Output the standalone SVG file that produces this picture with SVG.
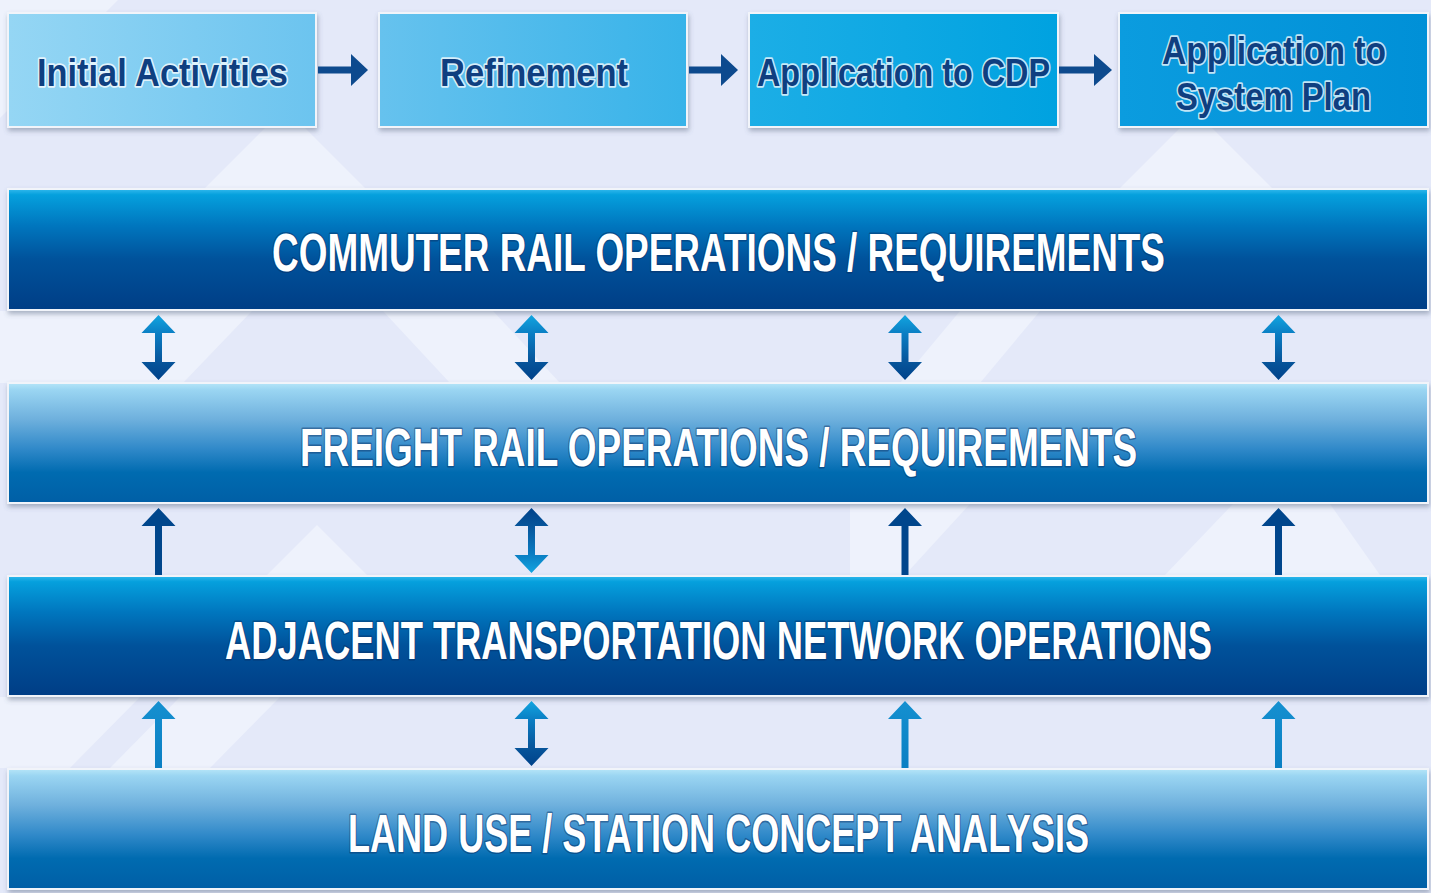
<svg xmlns="http://www.w3.org/2000/svg" width="1431" height="893" viewBox="0 0 1431 893">
<defs>
<style>
.bx{font-family:"Liberation Sans",Arial,sans-serif;font-weight:bold;font-size:39px;fill:#0f3f80;stroke:#ffffff;stroke-width:3.5px;stroke-opacity:0.75;stroke-linejoin:round;paint-order:stroke;text-anchor:middle}
.bd{font-family:"Liberation Sans",Arial,sans-serif;font-weight:bold;font-size:36.5px;fill:#ffffff;stroke:#0a2a5c;stroke-opacity:0.45;stroke-width:2px;stroke-linejoin:round;paint-order:stroke;text-anchor:middle}
.frame{fill:#f1f4fa}
.lt{fill:#eef2fc}
.harrow{fill:#0d4a8e}
</style>
<linearGradient id="gDark" x1="0" y1="0" x2="0" y2="1">
<stop offset="0" stop-color="#2bb5ea"/>
<stop offset="0.04" stop-color="#05a0dd"/>
<stop offset="0.3" stop-color="#0076be"/>
<stop offset="0.58" stop-color="#00529b"/>
<stop offset="1" stop-color="#003e86"/>
</linearGradient>
<linearGradient id="gLight" x1="0" y1="0" x2="0" y2="1">
<stop offset="0" stop-color="#b2e3f7"/>
<stop offset="0.05" stop-color="#9ad5f2"/>
<stop offset="0.3" stop-color="#6eb0dd"/>
<stop offset="0.55" stop-color="#3089c9"/>
<stop offset="0.75" stop-color="#006bb0"/>
<stop offset="1" stop-color="#005fa6"/>
</linearGradient>
<linearGradient id="gB1" x1="0" y1="0" x2="1" y2="0"><stop offset="0" stop-color="#95d6f4"/><stop offset="1" stop-color="#6cc4ef"/></linearGradient>
<linearGradient id="gB2" x1="0" y1="0" x2="1" y2="0"><stop offset="0" stop-color="#66c2ee"/><stop offset="1" stop-color="#38b3e9"/></linearGradient>
<linearGradient id="gB3" x1="0" y1="0" x2="1" y2="0"><stop offset="0" stop-color="#1caee6"/><stop offset="1" stop-color="#00a2e0"/></linearGradient>
<linearGradient id="gB4" x1="0" y1="0" x2="1" y2="0"><stop offset="0" stop-color="#0b9cdf"/><stop offset="1" stop-color="#0090d7"/></linearGradient>
<linearGradient id="aDown" x1="0" y1="0" x2="0" y2="1">
<stop offset="0" stop-color="#12a5e0"/>
<stop offset="0.3" stop-color="#0a7cc2"/>
<stop offset="0.7" stop-color="#07569c"/>
<stop offset="1" stop-color="#00428a"/>
</linearGradient>
<linearGradient id="aUp" x1="0" y1="0" x2="0" y2="1">
<stop offset="0" stop-color="#00428a"/>
<stop offset="0.3" stop-color="#07569c"/>
<stop offset="0.7" stop-color="#0a7cc2"/>
<stop offset="1" stop-color="#12a5e0"/>
</linearGradient>
<linearGradient id="aMid" x1="0" y1="0" x2="0" y2="1">
<stop offset="0" stop-color="#1590d0"/>
<stop offset="1" stop-color="#0a7fc3"/>
</linearGradient>
<filter id="sh" x="-5%" y="-20%" width="110%" height="140%">
<feDropShadow dx="1" dy="3" stdDeviation="2.5" flood-color="#55607a" flood-opacity="0.45"/>
</filter>
<path id="dbl" d="M0,0 L17,18 L3.5,18 L3.5,47 L17,47 L0,65 L-17,47 L-3.5,47 L-3.5,18 L-17,18 Z"/>
<path id="up" d="M0,0 L17,18 L3.5,18 L3.5,67 L-3.5,67 L-3.5,18 L-17,18 Z"/>
</defs>

<rect x="0" y="0" width="1431" height="893" fill="#e4e9f9"/>
<g id="background">
<polygon class="lt" points="0,0 118,0 0,118"/>
<polygon class="lt" points="285,108 367,190 203,190"/>
<polygon class="lt" points="1196,112 1274,190 1118,190"/>
<polygon class="lt" points="0,311 252,311 183,383 0,383"/>
<polygon class="lt" points="383,311 493,311 560,383 450,383"/>
<polygon class="lt" points="960,311 1040,311 980,383 900,383"/>
<polygon class="lt" points="317,525 367,575 267,575"/>
<polygon class="lt" points="850,504 970,504 905,575 850,575"/>
<polygon class="lt" points="1233,504 1330,504 1380,575 1165,575"/>
<polygon class="lt" points="0,697 140,697 70,768 0,768"/>
<polygon class="lt" points="180,697 280,697 210,768 110,768"/>
</g>

<g id="box-initial">
<rect x="7" y="12" width="310" height="116" class="frame" filter="url(#sh)"/>
<rect x="9" y="14" width="306" height="112" fill="url(#gB1)"/>
<text class="bx" x="162.5" y="86" textLength="251" lengthAdjust="spacingAndGlyphs">Initial Activities</text>
</g>
<g id="box-refinement">
<rect x="378" y="12" width="310" height="116" class="frame" filter="url(#sh)"/>
<rect x="380" y="14" width="306" height="112" fill="url(#gB2)"/>
<text class="bx" x="534" y="86" textLength="188" lengthAdjust="spacingAndGlyphs">Refinement</text>
</g>
<g id="box-cdp">
<rect x="748" y="12" width="311" height="116" class="frame" filter="url(#sh)"/>
<rect x="750" y="14" width="307" height="112" fill="url(#gB3)"/>
<text class="bx" x="903.5" y="86" textLength="293" lengthAdjust="spacingAndGlyphs">Application to CDP</text>
</g>
<g id="box-system">
<rect x="1118" y="12" width="311" height="116" class="frame" filter="url(#sh)"/>
<rect x="1120" y="14" width="307" height="112" fill="url(#gB4)"/>
<text class="bx" x="1274" y="64" textLength="224" lengthAdjust="spacingAndGlyphs">Application to</text>
<text class="bx" x="1273.5" y="110" textLength="195" lengthAdjust="spacingAndGlyphs">System Plan</text>
</g>

<g id="band-commuter">
<rect x="7" y="188" width="1422" height="123" class="frame" filter="url(#sh)"/>
<rect x="9" y="190" width="1418" height="119" fill="url(#gDark)"/>
<text class="bd" transform="translate(718.5,271) scale(1,1.47)" x="0" y="0" textLength="893" lengthAdjust="spacingAndGlyphs">COMMUTER RAIL OPERATIONS / REQUIREMENTS</text>
</g>
<g id="band-freight">
<rect x="7" y="382" width="1422" height="122" class="frame" filter="url(#sh)"/>
<rect x="9" y="384" width="1418" height="118" fill="url(#gLight)"/>
<text class="bd" transform="translate(718.5,466) scale(1,1.47)" x="0" y="0" textLength="837" lengthAdjust="spacingAndGlyphs">FREIGHT RAIL OPERATIONS / REQUIREMENTS</text>
</g>
<g id="band-adjacent">
<rect x="7" y="575" width="1422" height="122" class="frame" filter="url(#sh)"/>
<rect x="9" y="577" width="1418" height="118" fill="url(#gDark)"/>
<text class="bd" style="font-size:36px" transform="translate(718.5,659) scale(1,1.49)" x="0" y="0" textLength="987" lengthAdjust="spacingAndGlyphs">ADJACENT TRANSPORTATION NETWORK OPERATIONS</text>
</g>
<g id="band-landuse">
<rect x="7" y="768" width="1422" height="122" class="frame" filter="url(#sh)"/>
<rect x="9" y="770" width="1418" height="118" fill="url(#gLight)"/>
<text class="bd" style="font-size:35.2px" transform="translate(718.5,852) scale(1,1.53)" x="0" y="0" textLength="741" lengthAdjust="spacingAndGlyphs">LAND USE / STATION CONCEPT ANALYSIS</text>
</g>

<g id="connectors">
<path class="harrow" d="M318,66.5 L351,66.5 L351,54 L368,70 L351,86 L351,73.5 L318,73.5 Z"/>
<path class="harrow" d="M689,66.5 L721,66.5 L721,54 L738,70 L721,86 L721,73.5 L689,73.5 Z"/>
<path class="harrow" d="M1059,66.5 L1094,66.5 L1094,54 L1112,70 L1094,86 L1094,73.5 L1059,73.5 Z"/>

<use href="#dbl" x="158.5" y="315" fill="url(#aDown)"/>
<use href="#dbl" x="531.5" y="315" fill="url(#aDown)"/>
<use href="#dbl" x="905" y="315" fill="url(#aDown)"/>
<use href="#dbl" x="1278.5" y="315" fill="url(#aDown)"/>

<use href="#up" x="158.5" y="508" fill="#00468c"/>
<use href="#dbl" x="531.5" y="508" fill="url(#aUp)"/>
<use href="#up" x="905" y="508" fill="#00468c"/>
<use href="#up" x="1278.5" y="508" fill="#00468c"/>

<use href="#up" x="158.5" y="701" fill="url(#aMid)"/>
<use href="#dbl" x="531.5" y="701" fill="url(#aDown)"/>
<use href="#up" x="905" y="701" fill="url(#aMid)"/>
<use href="#up" x="1278.5" y="701" fill="url(#aMid)"/>
</g>
</svg>
